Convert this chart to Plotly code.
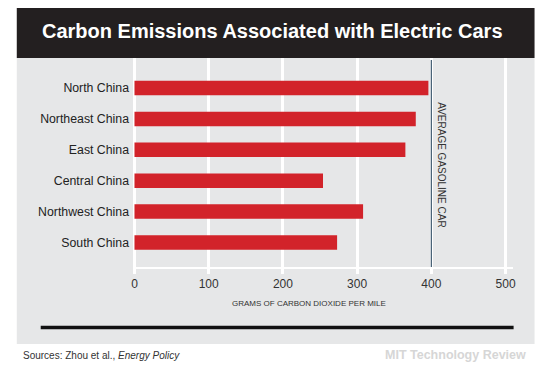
import plotly.graph_objects as go

regions = ["North China", "Northeast China", "East China", "Central China", "Northwest China", "South China"]
emissions = [396, 379, 365, 254, 308, 273]
gasoline_avg = 400
x_ticks = [0, 100, 200, 300, 400, 500]

title_text = "Carbon Emissions Associated with Electric Cars"
x_title = "GRAMS OF CARBON DIOXIDE PER MILE"
avg_label = "AVERAGE GASOLINE CAR"
source_text = "Sources: Zhou et al., <i>Energy Policy</i>"
brand_text = "MIT Technology Review"

# page body has an 8px default margin; work in window pixels and shift
OFF = 8
FIG_W, FIG_H = 550 - OFF, 365 - OFF
L, R, T, B = 132.5, 513.4, 58, 267
W, H = R - L, B - T

def px(x):
    return (x - L) / W

def py(y):
    return (B - y) / H

FONT = "Liberation Sans, Arial, sans-serif"

fig = go.Figure()
fig.add_trace(go.Bar(
    y=regions, x=emissions, orientation="h",
    marker=dict(color="#d2232a", line=dict(width=0)),
    width=0.47,
    hoverinfo="x+y",
))

shapes = [
    dict(type="rect", xref="paper", yref="paper", x0=px(16), x1=px(535), y0=py(58), y1=py(3.5),
         fillcolor="#231f20", line=dict(width=0), layer="below"),
    dict(type="rect", xref="paper", yref="paper", x0=px(16), x1=px(535), y0=py(344), y1=py(58),
         fillcolor="#e6e7e8", line=dict(width=0), layer="below"),
    dict(type="line", xref="x", yref="paper", x0=gasoline_avg, x1=gasoline_avg, y0=0, y1=py(60),
         line=dict(color="#4a6377", width=1.3), layer="above"),
    dict(type="line", xref="paper", yref="paper", x0=px(40), x1=px(514), y0=py(327.5), y1=py(327.5),
         line=dict(color="#111111", width=3.5)),
]

annotations = [
    dict(text=f"<b>{title_text}</b>", xref="paper", yref="paper", x=px(272), y=py(31),
         xanchor="center", yanchor="middle", showarrow=False,
         font=dict(family=FONT, size=20, color="#ffffff")),
    dict(text=x_title, xref="paper", yref="paper", x=px(309), y=py(303),
         xanchor="center", yanchor="middle", showarrow=False,
         font=dict(family=FONT, size=8, color="#333333")),
    dict(text=avg_label, xref="paper", yref="paper", x=px(441.5), y=py(164.5),
         xanchor="center", yanchor="middle", showarrow=False, textangle=90,
         font=dict(family=FONT, size=10, color="#333333")),
    dict(text=source_text, xref="paper", yref="paper", x=px(20), y=py(355),
         xanchor="left", yanchor="middle", showarrow=False,
         font=dict(family=FONT, size=10, color="#333333")),
    dict(text=f"<b>{brand_text}</b>", xref="paper", yref="paper", x=px(528), y=py(355),
         xanchor="right", yanchor="middle", showarrow=False,
         font=dict(family=FONT, size=12.5, color="#d6d6d6")),
]

fig.update_layout(
    width=FIG_W, height=FIG_H,
    margin=dict(l=L - OFF, r=550 - R, t=T - OFF, b=365 - B, pad=0),
    paper_bgcolor="#ffffff",
    plot_bgcolor="rgba(0,0,0,0)",
    showlegend=False,
    shapes=shapes,
    annotations=annotations,
    xaxis=dict(
        range=[-2, 510], tickvals=x_ticks, ticktext=[str(v) for v in x_ticks],
        showgrid=True, gridcolor="#ffffff", gridwidth=2.5, zeroline=False,
        showline=True, linecolor="#ffffff", linewidth=2,
        ticks="outside", ticklen=5, tickwidth=2.5, tickcolor="#ffffff",
        tickfont=dict(family=FONT, size=12, color="#333333"),
        fixedrange=True,
    ),
    yaxis=dict(
        categoryorder="array", categoryarray=regions,
        range=[5.793, -0.971],
        showgrid=False, zeroline=False, showline=False, ticks="",
        ticklabelstandoff=3,
        tickfont=dict(family=FONT, size=12.3, color="#222222"),
        fixedrange=True,
    ),
)

fig.write_html("out.html")
